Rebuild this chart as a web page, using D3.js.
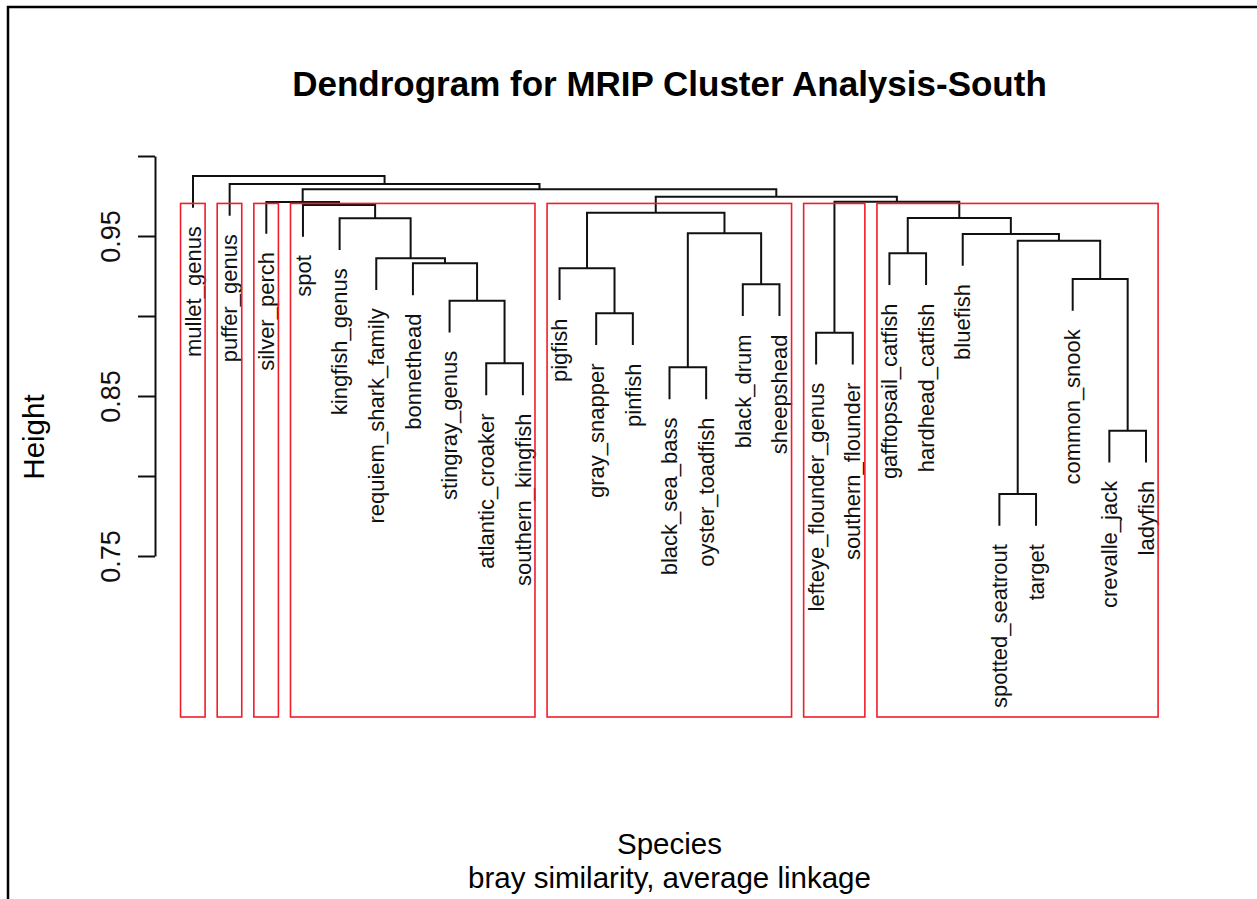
<!DOCTYPE html>
<html lang="en">
<head>
  <meta charset="UTF-8">
  <title>Dendrogram for MRIP Cluster Analysis-South</title>
  <script src="https://d3js.org/d3.v7.min.js"></script>
  <style>
    body { margin: 0; background: #fff; }
    svg { display: block; font-family: "Liberation Sans", Arial, sans-serif; }
  </style>
</head>
<body>
  <svg id="chart" width="1257" height="899"></svg>
  <script>
    // leaves, in the order they appear left to right
    const leafLabels = [
      "mullet_genus", "puffer_genus", "silver_perch", "spot", "kingfish_genus",
      "requiem_shark_family", "bonnethead", "stingray_genus", "atlantic_croaker",
      "southern_kingfish", "pigfish", "gray_snapper", "pinfish", "black_sea_bass",
      "oyster_toadfish", "black_drum", "sheepshead", "lefteye_flounder_genus",
      "southern_flounder", "gafftopsail_catfish", "hardhead_catfish", "bluefish",
      "spotted_seatrout", "target", "common_snook", "crevalle_jack", "ladyfish"
    ];

    // hclust-style merge table: negative = leaf number, positive = earlier merge
    const merges = [
      [-23, -24], [-26, -27], [-14, -15], [-9, -10], [-18, -19], [-12, -13],
      [-8, 4], [-16, -17], [-25, 2], [-11, 6], [-7, 7], [-6, 11], [-20, -21],
      [1, 9], [-22, 14], [3, 8], [-5, 12], [13, 15], [10, 16], [-4, 17],
      [-3, 20], [5, 18], [19, 22], [21, 23], [-2, 24], [-1, 25]
    ];
    const heights = [
      0.7888, 0.8283, 0.8679, 0.8704, 0.8896, 0.9017, 0.9096, 0.9198, 0.9231,
      0.9298, 0.9329, 0.9361, 0.9392, 0.9471, 0.9513, 0.9517, 0.9611, 0.9612,
      0.9646, 0.9694, 0.9713, 0.9714, 0.9746, 0.9792, 0.9825, 0.9875
    ];

    const yTicks = [1.00, 0.95, 0.90, 0.85, 0.80, 0.75];
    const yTickLabels = ["", "0.95", "", "0.85", "", "0.75"];
    const nClusters = 7;

    const titleText = "Dendrogram for MRIP Cluster Analysis-South";
    const xTitle = "Species";
    const subTitle = "bray similarity, average linkage";
    const yTitle = "Height";

    const svg = d3.select("#chart");

    // frame round the figure
    svg.append("rect")
      .attr("x", 8).attr("y", 7)
      .attr("width", 1260).attr("height", 900)
      .attr("fill", "none").attr("stroke", "#000").attr("stroke-width", 2.5);

    const x = d3.scaleLinear().domain([1, leafLabels.length]).range([193, 1146]);
    const y = d3.scaleLinear().domain([0.75, 1.0]).range([556, 156]);
    const plotBottom = 717;

    const hang = 0.1 * (d3.max(heights) - d3.min(heights));
    const labelSize = 22;
    const labelOffset = 0.833 * labelSize; // width of "m"

    // x position of every merge node
    const nodeX = [];
    const refX = r => r < 0 ? -r : nodeX[r - 1];
    merges.forEach(([a, b], i) => { nodeX[i] = (refX(a) + refX(b)) / 2; });

    // branches
    const g = svg.append("g");
    merges.forEach(([a, b], i) => {
      const h = heights[i];
      const top = r => r < 0 ? y(h - hang) : y(heights[r - 1]);
      g.append("path")
        .attr("d", `M${x(refX(a))},${top(a)}V${y(h)}H${x(refX(b))}V${top(b)}`)
        .attr("fill", "none")
        .attr("stroke", "#111")
        .attr("stroke-width", 2);
    });

    // leaf labels
    const parentHeight = {};
    merges.forEach(([a, b], i) => {
      if (a < 0) parentHeight[-a] = heights[i];
      if (b < 0) parentHeight[-b] = heights[i];
    });
    leafLabels.forEach((name, i) => {
      const px = x(i + 1);
      const py = y(parentHeight[i + 1] - hang) + labelOffset;
      svg.append("text")
        .attr("transform", `translate(${px},${py}) rotate(-90)`)
        .attr("text-anchor", "end")
        .attr("dy", "0.35em")
        .style("font-size", labelSize + "px")
        .attr("fill", "#111")
        .text(name);
    });

    // cluster boxes (like rect.hclust)
    const leafRange = r => {
      if (r < 0) return [-r, -r];
      const [a, b] = merges[r - 1];
      const ra = leafRange(a), rb = leafRange(b);
      return [Math.min(ra[0], rb[0]), Math.max(ra[1], rb[1])];
    };
    const n = merges.length;
    const topSet = new Set(d3.range(n - nClusters + 2, n + 1));
    const clusters = [];
    topSet.forEach(m => merges[m - 1].forEach(r => { if (!topSet.has(r)) clusters.push(leafRange(r)); }));
    const boxTop = (heights[n - nClusters + 1] + heights[n - nClusters]) / 2;
    clusters.forEach(([lo, hi]) => {
      svg.append("rect")
        .attr("x", x(lo - 0.34))
        .attr("y", y(boxTop))
        .attr("width", x(hi + 0.33) - x(lo - 0.34))
        .attr("height", plotBottom - y(boxTop))
        .attr("fill", "none")
        .attr("stroke", "#f21d2a")
        .attr("stroke-width", 1.6);
    });

    // y axis
    const axis = svg.append("g")
      .attr("transform", "translate(155,0)")
      .call(d3.axisLeft(y).tickValues(yTicks).tickSize(17).tickSizeOuter(0)
        .tickFormat((d, i) => yTickLabels[i]));
    axis.selectAll("path, line").attr("stroke", "#111").attr("stroke-width", 2);
    axis.selectAll("text")
      .attr("transform", "rotate(-90)")
      .attr("x", 0).attr("y", -35).attr("dy", 0)
      .attr("text-anchor", "middle")
      .attr("fill", "#111")
      .style("font-size", "27px")
      .style("font-family", "'Liberation Sans', Arial, sans-serif");

    // titles
    svg.append("text")
      .attr("x", 669.5).attr("y", 96)
      .attr("text-anchor", "middle")
      .style("font-size", "35px").style("font-weight", "bold")
      .text(titleText);

    svg.append("text")
      .attr("x", 669.5).attr("y", 854)
      .attr("text-anchor", "middle")
      .style("font-size", "29.5px")
      .text(xTitle);

    svg.append("text")
      .attr("x", 669.5).attr("y", 888)
      .attr("text-anchor", "middle")
      .style("font-size", "29.5px")
      .text(subTitle);

    svg.append("text")
      .attr("transform", "translate(44,437) rotate(-90)")
      .attr("text-anchor", "middle")
      .style("font-size", "29.5px")
      .text(yTitle);
  </script>
</body>
</html>
